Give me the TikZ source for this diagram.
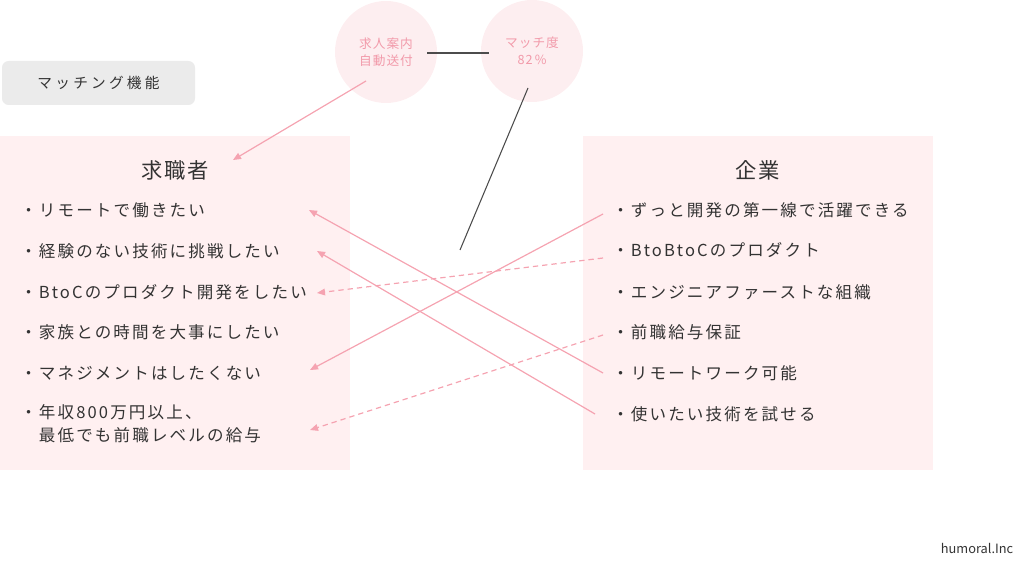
\documentclass[tikz,border=0pt]{standalone}
\usepackage{fontspec}
\setmainfont{Noto Sans CJK JP}
\usetikzlibrary{arrows.meta}
\definecolor{boxpink}{HTML}{FFF0F1}
\definecolor{circpink}{HTML}{FDEEF0}
\definecolor{arrpink}{HTML}{F5A3B1}
\definecolor{txt}{HTML}{333333}
\definecolor{labgray}{HTML}{EBEBEB}
\definecolor{circtxt}{HTML}{F29AAA}
\tikzset{
  item/.style={anchor=west, inner sep=0pt, text=txt, align=left,
    font=\fontsize{12.4pt}{17.25pt}\selectfont\addfontfeature{LetterSpace=13}},
  ttl/.style={inner sep=0pt, text=txt, font=\fontsize{16pt}{19pt}\selectfont\addfontfeature{LetterSpace=8}},
  bubble/.style={circle, fill=circpink, minimum size=76.5pt, inner sep=0pt, align=center,
    text=circtxt, font=\fontsize{9.5pt}{12.75pt}\selectfont\addfontfeature{LetterSpace=8}},
  link/.style={draw=arrpink, line width=0.9pt, -{Triangle[length=6pt,width=5pt]}},
  dlink/.style={link, dash pattern=on 4pt off 3pt},
  gline/.style={draw=black!70, line width=0.8pt},
}
\begin{document}
\begin{tikzpicture}[x=0.75pt,y=-0.75pt]
\useasboundingbox (0,0) rectangle (1024,566);
% panels
\fill[boxpink] (0,136) rectangle (350,470);
\fill[boxpink] (583,136) rectangle (933,470);
% label
\node[fill=labgray, rounded corners=5pt, minimum width=144.75pt, minimum height=33pt, inner sep=0pt,
  text=txt, font=\fontsize{11pt}{13pt}\selectfont\addfontfeature{LetterSpace=22}] (lab) at (98.5,83) {マッチング機能};
% bubbles
\node[bubble] (c1) at (386,52) {求人案内\\自動送付};
\node[bubble] (c2) at (532,51) {マッチ度\\82\,\%};
% titles
\node[ttl] (t1) at (175,170) {求職者};
\node[ttl] (t2) at (758,170) {企業};
% left items
\node[item] (l1) at (20,210) {・リモートで働きたい};
\node[item] (l2) at (20,251) {・経験のない技術に挑戦したい};
\node[item] (l3) at (20,292) {・BtoCのプロダクト開発をしたい};
\node[item] (l4) at (20,332) {・家族との時間を大事にしたい};
\node[item] (l5) at (20,373) {・マネジメントはしたくない};
\node[item, anchor=north west] (l6) at (20,404) {・年収800万円以上、\\　最低でも前職レベルの給与};
% right items
\node[item] (r1) at (612,210) {・ずっと開発の第一線で活躍できる};
\node[item] (r2) at (612,250) {・BtoBtoCのプロダクト};
\node[item] (r3) at (612,292) {・エンジニアファーストな組織};
\node[item] (r4) at (612,332) {・前職給与保証};
\node[item] (r5) at (612,373) {・リモートワーク可能};
\node[item] (r6) at (612,414) {・使いたい技術を試せる};
% footer
\node[inner sep=0pt, text=txt, font=\fontsize{9.6pt}{11pt}\selectfont] (ft) at (977,548) {humoral.Inc};
% connector end points
\coordinate (a1s) at (366,81);  \coordinate (a1e) at (233,160);
\coordinate (b1) at (427,53);   \coordinate (b2) at (489,53);
\coordinate (g1) at (528,88);   \coordinate (g2) at (460,250);
\coordinate (s1) at (603,214);  \coordinate (e1) at (310,370);
\coordinate (s2) at (603,258);  \coordinate (e2) at (317,293);
\coordinate (s3) at (603,373);  \coordinate (e3) at (309,210);
\coordinate (s4) at (595,414);  \coordinate (e4) at (317,251);
\coordinate (s5) at (603,335);  \coordinate (e5) at (310,430);
% connectors
\draw[gline] (b1) -- (b2);
\draw[gline] (g1) -- (g2);
\draw[link] (a1s) -- (a1e);
\draw[link] (s1) -- (e1);
\draw[dlink] (s2) -- (e2);
\draw[link] (s3) -- (e3);
\draw[link] (s4) -- (e4);
\draw[dlink] (s5) -- (e5);
\end{tikzpicture}
\end{document}
